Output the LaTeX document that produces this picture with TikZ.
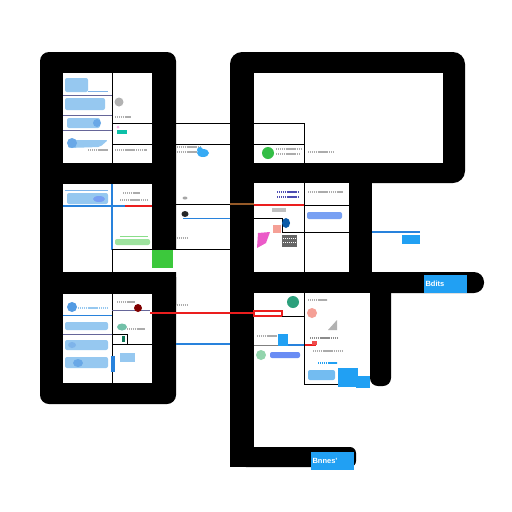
\documentclass[tikz,border=0pt]{standalone}
\usepackage{fontspec}
\setmainfont{Liberation Sans}
\definecolor{lblue}{RGB}{150,200,240}
\definecolor{mblue}{RGB}{40,130,220}
\definecolor{sky}{RGB}{33,160,243}
\definecolor{lgreen}{RGB}{60,200,60}
\definecolor{myred}{RGB}{235,30,30}
\definecolor{teal2}{RGB}{20,150,110}
\definecolor{salmon2}{RGB}{245,160,150}
\definecolor{pink2}{RGB}{235,90,200}
\definecolor{brown2}{RGB}{150,90,40}
\begin{document}
\begin{tikzpicture}[x=1pt,y=-1pt,
  thinln/.style={line width=0.9pt,black},
  rowln/.style={line width=0.7pt,gray!80!blue},
  scrib/.style={line width=2pt,dash pattern=on 1.4pt off 0.5pt,gray!65},
  bscrib/.style={line width=2pt,dash pattern=on 1.4pt off 0.5pt,lblue},
  blob/.style={fill=lblue,rounded corners=2pt},
  lbl/.style={fill=sky,text=white,font=\bfseries\fontsize{7.5}{8}\selectfont,inner sep=1.5pt,minimum height=18pt,text width=40pt,align=left}]
\useasboundingbox (0,0) rectangle (512,512);
\fill[white] (0,0) rectangle (512,512);
% ---------- left frame ----------
\fill[rounded corners=9pt] (40,52) rectangle (176,404);
\fill[white] (150,250) rectangle (178,272);
\fill[lgreen] (152,250) rectangle (173,268);
\fill[rounded corners=5pt] (120,272) -- (176,272) -- (176,310) -- (120,310) -- cycle;
\fill[white] (63,73) rectangle (152,163);
\fill[white] (63,184) rectangle (152,272);
\fill[white] (63,294) rectangle (152,383);
% ---------- right frame ----------
\fill[rounded corners=12pt] (230,52) rectangle (465,183);
\fill (230,100) rectangle (254,467);
\fill[rounded corners=6pt] (240,447) rectangle (356,467);
\fill (349,170) rectangle (372,280);
\fill[rounded corners=10pt] (240,272) rectangle (484,293);
\fill[rounded corners=8pt] (370,280) rectangle (391,386);
\fill[white] (254,73) rectangle (443,163);
\fill[white] (254,183) rectangle (349,272);
\fill[white] (254,293) rectangle (370,447);
% ---------- thin lines, top ----------
\draw[thinln] (112,73) -- (112,163);
\draw[rowln] (63,95) -- (112,95) (63,115) -- (112,115) (63,130) -- (112,130);
\draw[thinln] (112,123) -- (304,123) -- (304,272);
\draw[thinln] (112,144) -- (304,144);
% ---------- middle ----------
\draw[mblue,line width=1.1pt] (112,184) -- (112,250);
\draw[thinln] (112,250) -- (112,272);
\draw[mblue,line width=1.1pt] (63,206) -- (125,206);
\draw[myred,line width=1.1pt] (125,206) -- (152,206);
\draw[thinln] (152,204) -- (230,204);
\draw[brown2,line width=1.1pt] (230,204) -- (254,204);
\draw[myred,line width=1.3pt] (254,205) -- (304,205);
\draw[thinln] (304,205) -- (349,205);
\draw[thinln] (112,249) -- (230,249);
\draw[mblue,line width=1pt] (183,218) -- (230,218);
\fill[black!85] (185,214) ellipse (3.5pt and 3pt);
\fill[gray!70] (185,198) ellipse (2.5pt and 1.5pt);
\draw[scrib] (177,238) -- (187,238);
\draw[scrib] (177,305) -- (187,305);
\draw[scrib,line width=1.2pt] (177,147) -- (200,147) (177,152) -- (198,152);
\fill[sky!90] (203,153) ellipse (6pt and 4pt);
\fill[sky!90] (200,150) circle (3pt);
\draw[thinln] (254,218) -- (282,218) -- (282,232) -- (349,232);
\draw[mblue,line width=1.1pt] (372,232) -- (420,232);
\fill[sky] (402,235) rectangle (420,244);
% ---------- bottom ----------
\draw[thinln] (112,294) -- (112,383);
\draw[mblue,line width=0.8pt] (63,315) -- (112,315);
\draw[rowln] (63,334) -- (112,334) (112,310) -- (150,310);
\draw[thinln] (112,334) -- (127,334) -- (127,344);
\draw[myred,line width=2.5pt] (150,313) -- (254,313);
\draw[myred,line width=1.2pt] (254,311) rectangle (282,316);
\draw[thinln] (282,316) -- (304,316);
\draw[thinln] (112,344) -- (176,344);
\draw[mblue,line width=1.1pt] (176,344) -- (230,344);
\draw[gray,line width=0.9pt] (254,345) -- (280,345);
\draw[mblue,line width=1.1pt] (280,345) -- (304,345);
\draw[myred,line width=1.1pt] (304,345) -- (316,345);
\draw[thinln] (304,293) -- (304,384) -- (338,384);
% ---------- blobs: left top ----------
\fill[blob] (65,78) rectangle (88,92);
\draw[mblue!60,line width=0.6pt] (88,91) -- (108,91);
\fill[blob] (65,98) rectangle (105,110);
\fill[blob] (67,118) rectangle (100,128);
\fill[mblue!70] (97,123) circle (4pt);
\fill[blob] (68,140) -- (108,140) -- (100,147) -- (68,148) -- cycle;
\fill[mblue!70] (72,143) circle (5pt);
\draw[scrib] (88,150) -- (108,150);
\fill[gray!60] (119,102) circle (4.5pt);
\draw[scrib] (115,117) -- (131,117);
\fill[teal2!60!cyan] (117,130) rectangle (127,134);
\fill[pink2!50] (118,127) circle (1.5pt);
\draw[scrib] (115,150) -- (147,150);
% ---------- blobs: left middle ----------
\draw[mblue!60,line width=0.6pt] (65,190) -- (108,190);
\fill[blob] (67,193) rectangle (108,204);
\fill[lblue!80!blue] (99,199) ellipse (6pt and 3pt);
\draw[scrib] (123,193) -- (140,193);
\draw[scrib] (120,200) -- (148,200);
\draw[lgreen!60,line width=0.6pt] (120,236) -- (148,236);
\fill[lgreen!50,rounded corners=2pt] (115,239) rectangle (150,245);
% ---------- blobs: left bottom ----------
\fill[mblue!80] (72,307) circle (5pt);
\draw[bscrib] (78,308) -- (108,308);
\fill[blob] (65,322) rectangle (108,330);
\fill[blob] (65,340) rectangle (108,350);
\fill[mblue!60] (72,345) ellipse (4pt and 3pt);
\fill[blob] (65,357) rectangle (108,368);
\fill[mblue!70] (78,363) ellipse (5pt and 4pt);
\fill[mblue] (111,356) rectangle (115,372);
\draw[scrib] (117,302) -- (135,302);
\fill[red!50!black] (138,308) circle (4pt);
\fill[teal2!60] (122,327) ellipse (5pt and 3.5pt);
\draw[scrib] (127,329) -- (145,329);
\fill[teal2!80!black] (122,336) rectangle (125,342);
\fill[lblue] (120,353) rectangle (135,362);
% ---------- blobs: right top ----------
\fill[lgreen!80!teal2] (268,153) circle (6pt);
\draw[scrib] (276,149) -- (302,149);
\draw[scrib] (276,154) -- (300,154);
\draw[scrib] (308,152) -- (333,152);
% ---------- blobs: right middle ----------
\draw[scrib,gray!60!blue] (277,192) -- (298,192);
\draw[scrib,gray!60!blue] (277,197) -- (298,197);
\draw[scrib] (308,192) -- (343,192);
\fill[blob,fill=lblue!80!blue] (307,212) rectangle (342,219);
\fill[gray!50] (272,208) rectangle (286,212);
\fill[teal2!60!blue] (286,223) ellipse (4pt and 5pt);
\fill[salmon2] (273,225) rectangle (281,233);
\fill[pink2] (258,233) -- (270,232) -- (266,243) -- (257,248) -- cycle;
\fill[gray!80!black] (282,235) rectangle (297,247);
\draw[white,line width=0.4pt,dash pattern=on 1pt off 1pt] (283,238) -- (296,238) (283,242) -- (296,242);
% ---------- blobs: right bottom ----------
\fill[teal2!90] (293,302) circle (6pt);
\draw[scrib] (308,300) -- (327,300);
\fill[salmon2] (312,313) circle (5pt);
\fill[gray!60] (337,320) -- (337,330) -- (328,330) -- cycle;
\draw[scrib,gray!90] (310,338) -- (337,338);
\fill[myred!80] (312,341) rectangle (317,345);
\draw[scrib] (313,351) -- (342,351);
\draw[bscrib,sky] (318,363) -- (337,363);
\fill[blob,fill=lblue!70!sky] (308,370) rectangle (335,380);
\draw[scrib] (257,336) -- (277,336);
\fill[sky] (278,334) rectangle (288,346);
\fill[lgreen!40!teal2!50] (261,355) circle (5pt);
\fill[blob,fill=lblue!70!blue] (270,352) rectangle (300,358);
\fill[sky] (338,368) rectangle (358,387);
\fill[sky] (356,376) rectangle (370,388);
% ---------- labels ----------
\node[lbl] (l1) at (445.5,284) {Bdits};
\node[lbl] (l2) at (332.5,461) {Bnnes'};
\end{tikzpicture}
\end{document}
